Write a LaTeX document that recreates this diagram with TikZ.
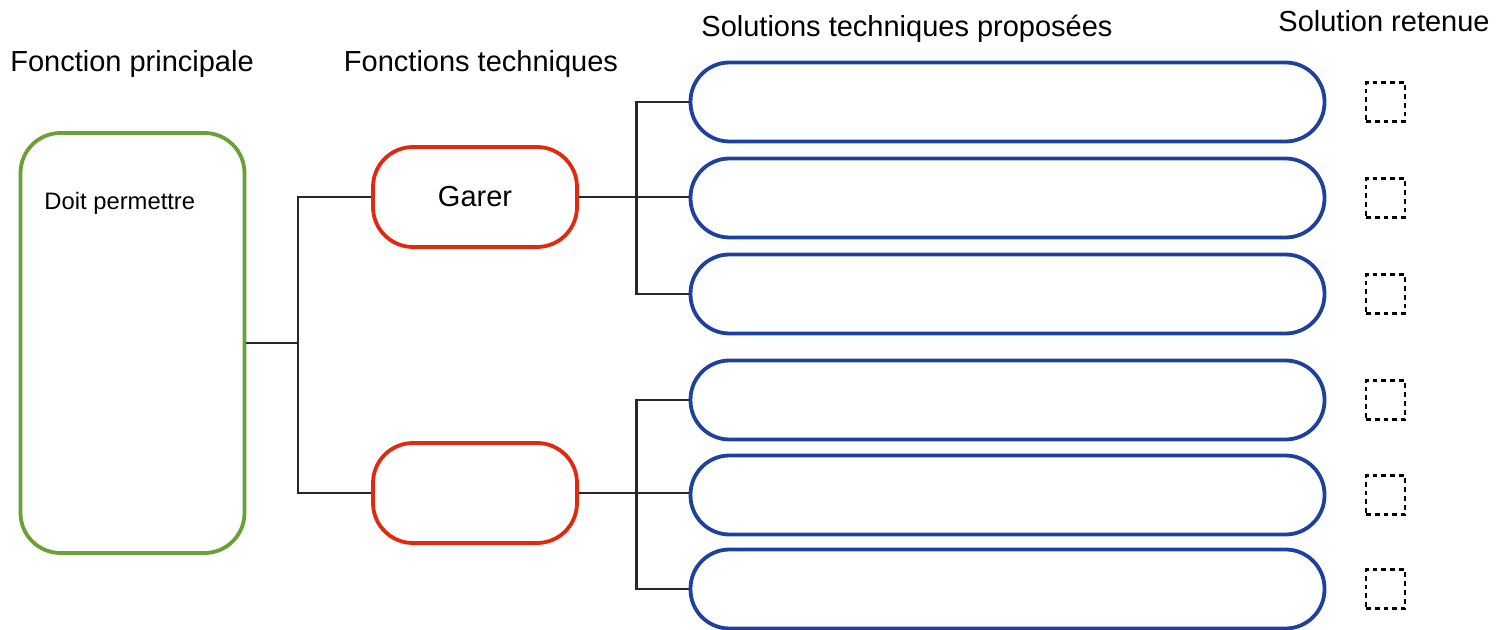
\documentclass[tikz,border=0pt]{standalone}
\usepackage{fontspec}
\setmainfont{Liberation Sans}
\usetikzlibrary{calc}
\definecolor{fpgreen}{RGB}{106,160,55}
\definecolor{ftred}{RGB}{226,40,14}
\definecolor{stblue}{RGB}{30,65,160}
\definecolor{linkgray}{RGB}{40,40,40}

\begin{document}
\begin{tikzpicture}[x=0.5pt,y=-0.5pt,
    titre/.style={anchor=base,inner sep=0pt,font=\fontsize{14.5}{17}\selectfont},
    fp/.style={draw=fpgreen,line width=1.9pt,rounded corners=20pt,minimum width=112pt,minimum height=210pt},
    ft/.style={draw=ftred,line width=1.9pt,rounded corners=20pt,minimum width=102pt,minimum height=50pt,font=\fontsize{14.5}{17}\selectfont},
    st/.style={draw=stblue,line width=1.9pt,rounded corners=19.5pt,minimum width=317pt,minimum height=39.5pt},
    choix/.style={draw=black,line width=1.2pt,dash pattern=on 2.4pt off 2pt,minimum size=19.5pt,inner sep=0pt},
    link/.style={draw=linkgray,line width=1.3pt}]
    \useasboundingbox (0,0) rectangle (1509,630);
        \node[titre] (tfp) at (132,72) {Fonction principale};
        \node[titre] (tft) at (481,72) {Fonctions techniques};
        \node[titre] (tst) at (907,37) {Solutions techniques proposées};
        \node[titre] (tsr) at (1384,32) {Solution retenue};
        \node[fp] (fp) at (132.5,343) {};
        \node[anchor=base west,inner sep=0pt,font=\fontsize{11.9}{14}\selectfont] (doit) at (44,210) {Doit permettre};
        \node[ft] (ft1) at (475,197) {Garer};
        \node[ft] (ft2) at (475,493) {};
        \foreach \i/\y in {1/102,2/198,3/294,4/400,5/495,6/589} {
            \node[st] (st\i) at (1007.5,\y) {};
            \node[choix] (c\i) at (1385.5,\y) {};
        }
        \draw[link] (ft1.west) -- ++(-73,0) coordinate (j1) |- (ft2.west);
        \draw[link] (fp.east) -- (fp.east -| j1);
        \draw[link] (st1.west) -- ++(-52,0) coordinate (j2) |- (st3.west);
        \draw[link] (ft1.east) -- (ft1.east -| st2.west);
        \draw[link] (st4.west) -- ++(-52,0) coordinate (j3) |- (st6.west);
        \draw[link] (ft2.east) -- (ft2.east -| st5.west);
    \end{tikzpicture}
\end{document}
